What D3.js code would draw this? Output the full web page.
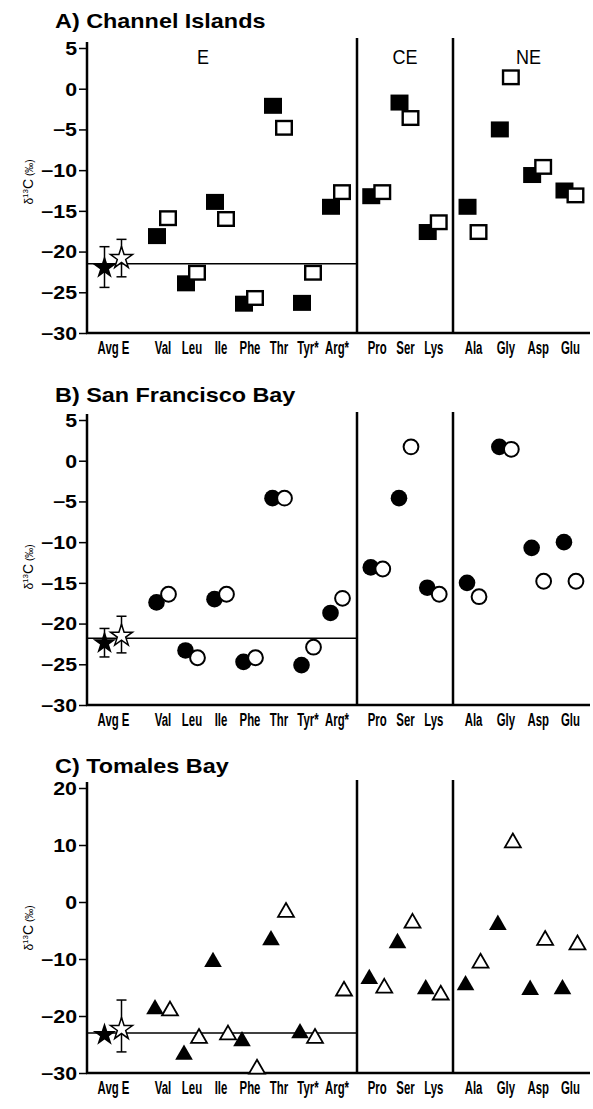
<!DOCTYPE html>
<html><head><meta charset="utf-8">
<script src="https://cdn.jsdelivr.net/npm/d3@7"></script>
<style>body{margin:0;background:#fff}svg{display:block;background:#fff}</style>
</head><body><svg id="c" width="593" height="1109"></svg>
<script>
// ---------- data ----------
const categories = ["Avg E","Val","Leu","Ile","Phe","Thr","Tyr*","Arg*","Pro","Ser","Lys","Ala","Gly","Asp","Glu"];
const groupAvg = ["Avg E"];
const groupE  = ["Val","Leu","Ile","Phe","Thr","Tyr*","Arg*"];
const groupCE = ["Pro","Ser","Lys"];
const groupNE = ["Ala","Gly","Asp","Glu"];
const groupLabels = ["E","CE","NE"];
const panelTitles = ["A) Channel Islands","B) San Francisco Bay","C) Tomales Bay"];

const ticksAB = [5,0,-5,-10,-15,-20,-25,-30];
const ticksC  = [20,10,0,-10,-20,-30];

// Panel A (squares)
const filledA = [-22.0,-18.1,-23.9,-13.9,-26.4,-2.1,-26.3,-14.5,-13.2,-1.7,-17.6,-14.5,-5.0,-10.6,-12.5];
const openA   = [-20.8,-15.9,-22.6,-16.0,-25.7,-4.8,-22.6,-12.7,-12.7,-3.6,-16.4,-17.6,1.4,-9.6,-13.1];
const errFilledA = [-19.4,-24.4];
const errOpenA   = [-18.5,-23.1];
const refA = -21.5;

// Panel B (circles)
const filledB = [-22.4,-17.4,-23.3,-17.0,-24.7,-4.6,-25.1,-18.7,-13.1,-4.6,-15.6,-15.0,1.7,-10.7,-10.0];
const openB   = [-21.5,-16.4,-24.2,-16.4,-24.2,-4.6,-22.9,-16.9,-13.3,1.7,-16.4,-16.7,1.4,-14.8,-14.8];
const errFilledB = [-20.6,-24.1];
const errOpenB   = [-19.1,-23.6];
const refB = -21.8;

// Panel C (triangles)
const filledC = [-23.3,-18.8,-26.8,-10.5,-24.4,-6.7,-23.0,null,-13.5,-7.2,-15.3,-14.6,-4.0,-15.4,-15.3];
const openC   = [-22.3,-19.1,-23.9,-23.3,-29.3,-1.8,-23.9,-15.6,-15.1,-3.7,-16.3,-10.7,10.4,-6.7,-7.5];
const errFilledC = null;
const errOpenC   = [-17.2,-26.3];
const refC = -23.0;

// ---------- layout ----------
const svg = d3.select("#c");
svg.append("rect").attr("width",593).attr("height",1109).attr("fill","#fff");
const FONT = "'Liberation Sans', Arial, Helvetica, sans-serif";
const left = 87, right = 590;

const xAvg = d3.scalePoint(groupAvg, [100,126]).padding(0.5);
const xE   = d3.scalePoint(groupE, [148,351]).padding(0.5);
const xCE  = d3.scalePoint(groupCE, [357,453]).padding(0.7);
const xNE  = d3.scalePoint(groupNE, [453,590]).padding(0.62);
const subScales = [xAvg,xE,xCE,xNE];
const x = d3.scaleOrdinal(categories, categories.map(c => subScales.find(s => s.domain().includes(c))(c)));
const dividers = [xCE.range()[0], xNE.range()[0]];

const panels = [
  {title:panelTitles[0], titleY:28, top:48, bottom:333, divTop:38, domain:[-30,5], ticks:ticksAB,
   filled:filledA, open:openA, errF:errFilledA, errO:errOpenA, ref:refA, shape:"square", off:5.5, labelCY:182, groups:true},
  {title:panelTitles[1], titleY:402, top:420, bottom:705, divTop:412, domain:[-30,5], ticks:ticksAB,
   filled:filledB, open:openB, errF:errFilledB, errO:errOpenB, ref:refB, shape:"circle", off:6, labelCY:567, groups:false},
  {title:panelTitles[2], titleY:773, top:788, bottom:1073, divTop:780, domain:[-30,20], ticks:ticksC,
   filled:filledC, open:openC, errF:errFilledC, errO:errOpenC, ref:refC, shape:"triangle", off:7.5, labelCY:928, groups:false}
];

panels.forEach(p => {
  const g = svg.append("g");
  const y = d3.scaleLinear(p.domain, [p.bottom, p.top]);

  // title
  g.append("text").attr("transform",`translate(55,${p.titleY}) scale(1.2,1)`)
    .attr("font-family",FONT).attr("font-weight","bold").attr("font-size",19.5).text(p.title);

  // y axis
  const ya = g.append("g").attr("transform",`translate(${left},0)`)
    .call(d3.axisLeft(y).tickValues(p.ticks).tickSize(8).tickSizeOuter(0).tickPadding(10));
  ya.select(".domain").remove();
  ya.selectAll(".tick line").attr("stroke","#000").attr("stroke-width",1.5);
  ya.selectAll(".tick text").attr("font-family",FONT).attr("font-weight","bold").attr("font-size",17.5)
    .attr("fill","#000").attr("x",-10/1.22).attr("transform","scale(1.22,1)").attr("dy","0.36em");
  g.append("line").attr("x1",left).attr("x2",left).attr("y1",p.top-6).attr("y2",p.bottom+1)
    .attr("stroke","#000").attr("stroke-width",2.5);

  // y label
  const yl = g.append("text").attr("transform",`translate(33,${p.labelCY}) rotate(-90)`)
    .attr("text-anchor","middle").attr("font-family",FONT).attr("fill","#000");
  yl.append("tspan").attr("font-size",12).text("δ");
  yl.append("tspan").attr("font-size",8).attr("dy",-5).text("13");
  yl.append("tspan").attr("font-size",14).attr("dy",5).text("C");
  yl.append("tspan").attr("font-size",10).text(" (‰)");

  // x axis
  const xa = g.append("g").attr("transform",`translate(0,${p.bottom})`)
    .call(d3.axisBottom(x).tickSize(0).tickPadding(8));
  xa.select(".domain").remove();
  xa.selectAll(".tick text").attr("font-family",FONT).attr("font-weight","bold").attr("font-size",19)
    .attr("fill","#000").attr("transform","scale(0.6,1)");
  g.append("line").attr("x1",left-1).attr("x2",right).attr("y1",p.bottom).attr("y2",p.bottom)
    .attr("stroke","#000").attr("stroke-width",2.5);

  // dividers
  dividers.forEach(d => g.append("line").attr("x1",d).attr("x2",d).attr("y1",p.divTop).attr("y2",p.bottom)
    .attr("stroke","#000").attr("stroke-width",2.5));

  // group labels
  if (p.groups) {
    const gx = [203, (xCE.range()[0]+xCE.range()[1])/2, (xNE.range()[0]+xNE.range()[1])/2 + 7];
    groupLabels.forEach((t,i) => g.append("text").attr("transform",`translate(${gx[i]},${p.top+16}) scale(0.9,1)`)
      .attr("text-anchor","middle").attr("font-family",FONT).attr("font-size",20).attr("fill","#000").text(t));
  }

  // reference line
  g.append("line").attr("x1",left).attr("x2",dividers[0]).attr("y1",y(p.ref)).attr("y2",y(p.ref))
    .attr("stroke","#000").attr("stroke-width",1.5);

  // error bars for averages
  const avgX = x("Avg E");
  const bars = [{e:p.errF, dx:-8.5},{e:p.errO, dx:8.5}].filter(b => b.e);
  bars.forEach(b => {
    const cx = avgX + b.dx;
    g.append("line").attr("x1",cx).attr("x2",cx).attr("y1",y(b.e[0])).attr("y2",y(b.e[1])).attr("stroke","#000").attr("stroke-width",1.5);
    b.e.forEach(v => g.append("line").attr("x1",cx-5).attr("x2",cx+5).attr("y1",y(v)).attr("y2",y(v)).attr("stroke","#000").attr("stroke-width",1.5));
  });

  // points (excluding Avg E)
  const pts = [];
  categories.forEach((c,i) => {
    if (i === 0) return;
    if (p.filled[i] != null) pts.push({c, v:p.filled[i], filled:true});
  });
  categories.forEach((c,i) => {
    if (i === 0) return;
    if (p.open[i] != null) pts.push({c, v:p.open[i], filled:false});
  });
  const mk = g.append("g");
  pts.forEach(d => {
    const cx = x(d.c) + (d.filled ? -p.off : p.off), cy = y(d.v);
    if (p.shape === "square") {
      if (d.filled) mk.append("rect").attr("x",cx-9).attr("y",cy-8).attr("width",18).attr("height",16).attr("fill","#000");
      else mk.append("rect").attr("x",cx-7.8).attr("y",cy-6.8).attr("width",15.6).attr("height",13.6).attr("fill","#fff").attr("stroke","#000").attr("stroke-width",2.4);
    } else if (p.shape === "circle") {
      if (d.filled) mk.append("circle").attr("cx",cx).attr("cy",cy).attr("r",8.3).attr("fill","#000");
      else mk.append("circle").attr("cx",cx).attr("cy",cy).attr("r",7.4).attr("fill","#fff").attr("stroke","#000").attr("stroke-width",2);
    } else {
      if (d.filled) mk.append("path").attr("d",d3.symbol(d3.symbolTriangle,135)()).attr("transform",`translate(${cx},${cy})`).attr("fill","#000");
      else mk.append("path").attr("d",d3.symbol(d3.symbolTriangle,110)()).attr("transform",`translate(${cx},${cy})`).attr("fill","#fff").attr("stroke","#000").attr("stroke-width",1.8);
    }
  });

  // average stars
  if (p.filled[0] != null)
    g.append("path").attr("d",d3.symbol(d3.symbolStar,170)()).attr("transform",`translate(${avgX-8.5},${y(p.filled[0])})`).attr("fill","#000");
  if (p.open[0] != null)
    g.append("path").attr("d",d3.symbol(d3.symbolStar,150)()).attr("transform",`translate(${avgX+8.5},${y(p.open[0])})`).attr("fill","#fff").attr("stroke","#000").attr("stroke-width",1.5);
});
</script></body></html>
